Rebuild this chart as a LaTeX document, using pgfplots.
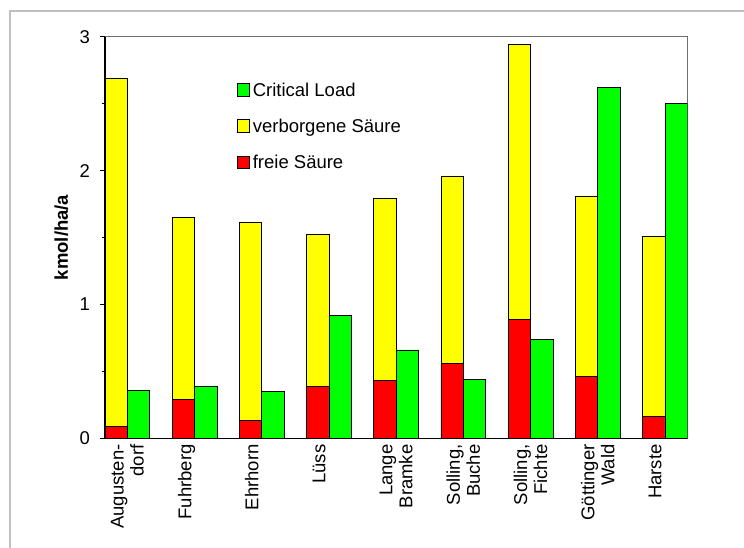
\documentclass[border=0pt]{standalone}
\usepackage{pgfplots}
\pgfplotsset{compat=1.18}
\usepackage{fontspec}
\setmainfont{Liberation Sans}

\definecolor{barRed}{RGB}{255,0,0}
\definecolor{barYellow}{RGB}{255,255,0}
\definecolor{barGreen}{RGB}{0,255,0}
\definecolor{pageFrame}{RGB}{192,192,192}
\definecolor{boxGray}{RGB}{110,110,110}

\newcommand{\chartfont}{\fontsize{18.5}{20}\selectfont}

% site, free acid (top of red), total acid (top of yellow), critical load
\pgfplotstableread{
x red total green
0 0.09 2.69 0.36
1 0.29 1.65 0.39
2 0.13 1.61 0.35
3 0.39 1.52 0.92
4 0.43 1.79 0.66
5 0.56 1.96 0.44
6 0.89 2.94 0.74
7 0.46 1.81 2.62
8 0.16 1.51 2.50
}\saeure

\begin{document}
\begin{tikzpicture}
\useasboundingbox (0pt,0pt) rectangle (744pt,548pt);
\fill[white] (0pt,0pt) rectangle (744pt,548pt);
\draw[pageFrame, line width=2pt] (10pt,0pt) -- (10pt,537pt) -- (744pt,537pt);

\begin{axis}[
  at={(105pt,109.7pt)}, anchor=south west,
  scale only axis, width=582.3pt, height=401.6pt,
  xmin=-0.33333, xmax=8.33333, ymin=0, ymax=3,
  axis line style={draw=boxGray, line width=1pt},
  tick align=outside,
  major tick length=5pt, minor tick length=3.3pt,
  tick style={black, line width=0.8pt},
  ytick={0,1,2,3}, minor ytick={0.5,1.5,2.5},
  ytick pos=left,
  xtick={0,1,2,3,4,5,6,7,8},
  xtick pos=bottom,
  major x tick style={draw=none},
  xticklabels={Augusten-\\dorf, Fuhrberg\\\mbox{}, Ehrhorn\\\mbox{}, Lüss\\\mbox{},
    Lange\\Bramke, {Solling,\\Buche}, {Solling,\\Fichte}, Göttinger\\Wald, Harste\\\mbox{}},
  /pgf/number format/assume math mode=true,
  yticklabel style={font=\chartfont, anchor=east, inner sep=0pt},
  yticklabel shift=10pt,
  xticklabel style={font=\chartfont, rotate=90, anchor=east, inner sep=0pt, align=right},
  xticklabel shift=1pt,
  ylabel={\bfseries kmol/ha/a},
  every axis y label/.style={at={(axis description cs:-0.0627,0.5)}, rotate=90,
    anchor=south, inner sep=0pt, font=\chartfont},
  legend style={at={(axis description cs:0.2205,0.7776)}, anchor=west,
    draw=none, fill=none, font=\chartfont, row sep=22.9pt,
    nodes={inner sep=0pt, text height=13.3pt, text depth=0pt}},
  legend cell align=left,
  legend image code/.code={%
    \draw[#1, draw=black, line width=0.8pt] (0pt,-6.3pt) rectangle (12.6pt,6.3pt);
    \path (15.6pt,0pt);},
  after end axis/.code={
    \draw[black, line width=1.2pt] (rel axis cs:0,1) -- (rel axis cs:0,0) -- (rel axis cs:1,0);
  },
]
% stacked acid column: yellow up to the total, red free acid in front of it
\addplot[ybar, bar width=0.33333, bar shift=-0.166667, fill=barYellow, draw=black, line width=0.8pt, forget plot]
  table[x=x, y=total] {\saeure};
\addplot[ybar, bar width=0.33333, bar shift=-0.166667, fill=barRed, draw=black, line width=0.8pt, forget plot]
  table[x=x, y=red] {\saeure};
% critical load column
\addplot[ybar, bar width=0.33333, bar shift=0.166667, fill=barGreen, draw=black, line width=0.8pt, forget plot]
  table[x=x, y=green] {\saeure};

\addlegendimage{fill=barGreen}
\addlegendentry{Critical Load}
\addlegendimage{fill=barYellow}
\addlegendentry{verborgene Säure}
\addlegendimage{fill=barRed}
\addlegendentry{freie Säure}
\end{axis}
\end{tikzpicture}
\end{document}
